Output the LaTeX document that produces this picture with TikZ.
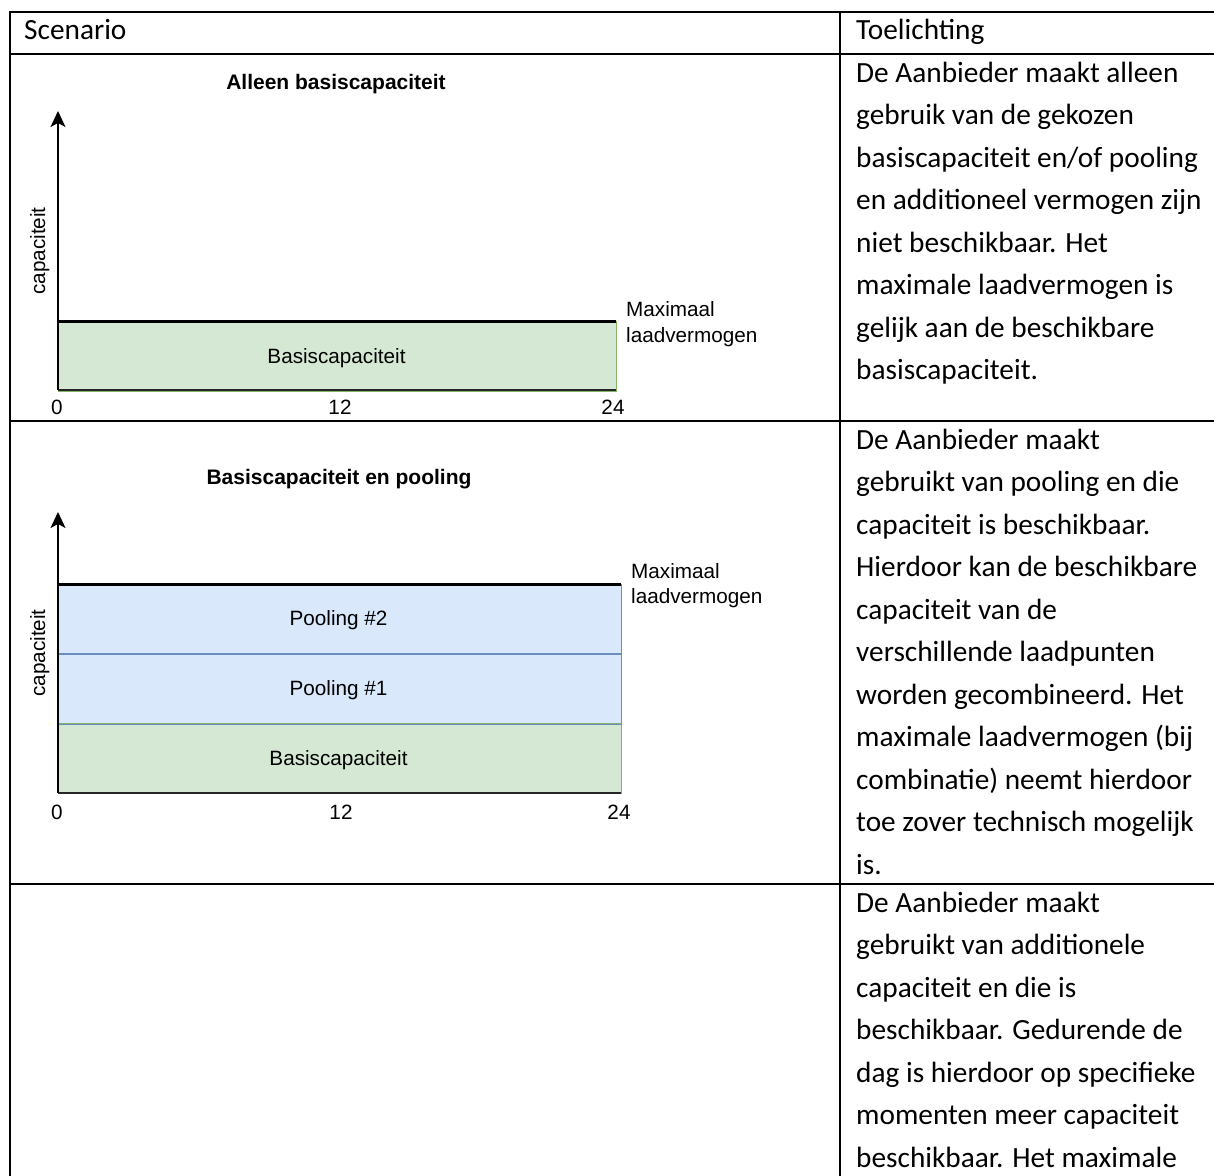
\documentclass[tikz,border=0pt]{standalone}
\usepackage{fontspec}
\setmainfont{Carlito}
\newfontfamily\chartfont{Liberation Sans}
\usetikzlibrary{arrows.meta}
\definecolor{gfill}{HTML}{D5E8D4}
\definecolor{gline}{HTML}{82B366}
\definecolor{bfill}{HTML}{DAE8FC}
\definecolor{bline}{HTML}{6C8EBF}
\begin{document}
\begin{tikzpicture}[x=1pt,y=-1pt,
  cell/.style={font=\fontsize{29.3}{42.5}\selectfont, anchor=base west, inner sep=0pt},
  clab/.style={font=\chartfont\fontsize{20.7}{25}\selectfont, anchor=base, inner sep=0pt},
  cside/.style={font=\chartfont\fontsize{20.7}{25}\selectfont, anchor=base west, inner sep=0pt},
  ctitle/.style={font=\chartfont\bfseries\fontsize{21}{25}\selectfont, anchor=base, inner sep=0pt},
  tablerule/.style={line width=2.5pt, line cap=rect},
  yaxis/.style={line width=1.4pt, -{Stealth[length=16pt,width=15pt,inset=4pt]}},
  xaxis/.style={line width=1.6pt, black!85},
  maxline/.style={line width=3pt},
  greenbar/.style={fill=gfill, draw=gline, line width=1.2pt, anchor=north west, inner sep=0pt, minimum height=69.5pt},
  bluebar/.style={fill=bfill, draw=bline, line width=1.2pt, anchor=north west, inner sep=0pt, minimum height=69.5pt}]
\useasboundingbox (0,0) rectangle (1214,1175);
\fill[white] (0,0) rectangle (1214,1175);

% ---------------- table rules
\coordinate (tl) at (10,12);   \coordinate (tr) at (1214,12);
\coordinate (hl) at (10,54);   \coordinate (hr) at (1214,54);
\coordinate (r1l) at (10,421); \coordinate (r1r) at (1214,421);
\coordinate (r2l) at (10,884); \coordinate (r2r) at (1214,884);
\coordinate (bl) at (10,1175); \coordinate (cb) at (840,1175);
\coordinate (ct) at (840,12);
\draw[tablerule] (tl) -- (tr);
\draw[tablerule] (hl) -- (hr);
\draw[tablerule] (r1l) -- (r1r);
\draw[tablerule] (r2l) -- (r2r);
\draw[tablerule] (tl) -- (bl);
\draw[tablerule] (ct) -- (cb);

\node[cell] (hscen) at (24,39.5) {Scenario};
\node[cell] (htoel) at (856,39.5) {Toelichting};

% ---------------- chart 1
\node[ctitle] (t1) at (336,89) {Alleen basiscapaciteit};
\node[greenbar, minimum width=558pt] (g1) at (58,321) {};
\node[clab] (g1l) at (336.5,363) {Basiscapaciteit};
\coordinate (o1) at (58,390);
\coordinate (x1) at (616,390);
\coordinate (y1) at (58,111);
\coordinate (m1a) at (58,321);
\coordinate (m1b) at (616,321);
\draw[xaxis] (o1) -- (x1);
\draw[maxline] (m1a) -- (m1b);
\draw[yaxis] (o1) -- (y1);
\node[clab, rotate=90] (c1) at (45,251) {capaciteit};
\node[clab] (k10) at (57,414.5) {0};
\node[clab] (k11) at (340,414.5) {12};
\node[clab] (k12) at (613,414.5) {24};
\node[cside] (mx1) at (626,316) {Maximaal};
\node[cside] (lv1) at (626,342) {laadvermogen};

% ---------------- chart 2
\node[ctitle] (t2) at (339,484) {Basiscapaciteit en pooling};
\node[bluebar, minimum width=563pt, minimum height=69pt] (p2) at (58,584) {};
\node[bluebar, minimum width=563pt, minimum height=70pt] (p1) at (58,653) {};
\node[greenbar, minimum width=563pt, minimum height=70pt] (g2) at (58,723) {};
\draw[bline, line width=1.2pt] (p1.south west) -- (p1.south east);
\draw[bline, line width=1.2pt] (p2.south west) -- (p2.south east);
\node[clab] (p2l) at (338.5,625) {Pooling \#2};
\node[clab] (p1l) at (338.5,695.5) {Pooling \#1};
\node[clab] (g2l) at (338.5,765.5) {Basiscapaciteit};
\coordinate (o2) at (58,793);
\coordinate (x2) at (621,793);
\coordinate (y2) at (58,512);
\coordinate (m2a) at (58,584);
\coordinate (m2b) at (621,584);
\draw[xaxis] (o2) -- (x2);
\draw[maxline] (m2a) -- (m2b);
\draw[yaxis] (o2) -- (y2);
\node[clab, rotate=90] (c2) at (45,653) {capaciteit};
\node[clab] (k20) at (57,819) {0};
\node[clab] (k21) at (341,819) {12};
\node[clab] (k22) at (619,819) {24};
\node[cside] (mx2) at (631,578) {Maximaal};
\node[cside] (lv2) at (631,603) {laadvermogen};

% ---------------- explanation texts
\foreach \t [count=\i from 0] in {{De Aanbieder maakt alleen},{gebruik van de gekozen},{basiscapaciteit en/of pooling},{en additioneel vermogen zijn},{niet beschikbaar. Het},{maximale laadvermogen is},{gelijk aan de beschikbare},{basiscapaciteit.}}
  \node[cell] (ra\i) at (856,82+42.5*\i) {\t};
\foreach \t [count=\i from 0] in {{De Aanbieder maakt},{gebruikt van pooling en die},{capaciteit is beschikbaar.},{Hierdoor kan de beschikbare},{capaciteit van de},{verschillende laadpunten},{worden gecombineerd. Het},{maximale laadvermogen (bij},{combinatie) neemt hierdoor},{toe zover technisch mogelijk},{is.}}
  \node[cell] (rb\i) at (856,449+42.5*\i) {\t};
\foreach \t [count=\i from 0] in {{De Aanbieder maakt},{gebruikt van additionele},{capaciteit en die is},{beschikbaar. Gedurende de},{dag is hierdoor op specifieke},{momenten meer capaciteit},{beschikbaar. Het maximale}}
  \node[cell] (rc\i) at (856,912+42.5*\i) {\t};
\end{tikzpicture}
\end{document}
